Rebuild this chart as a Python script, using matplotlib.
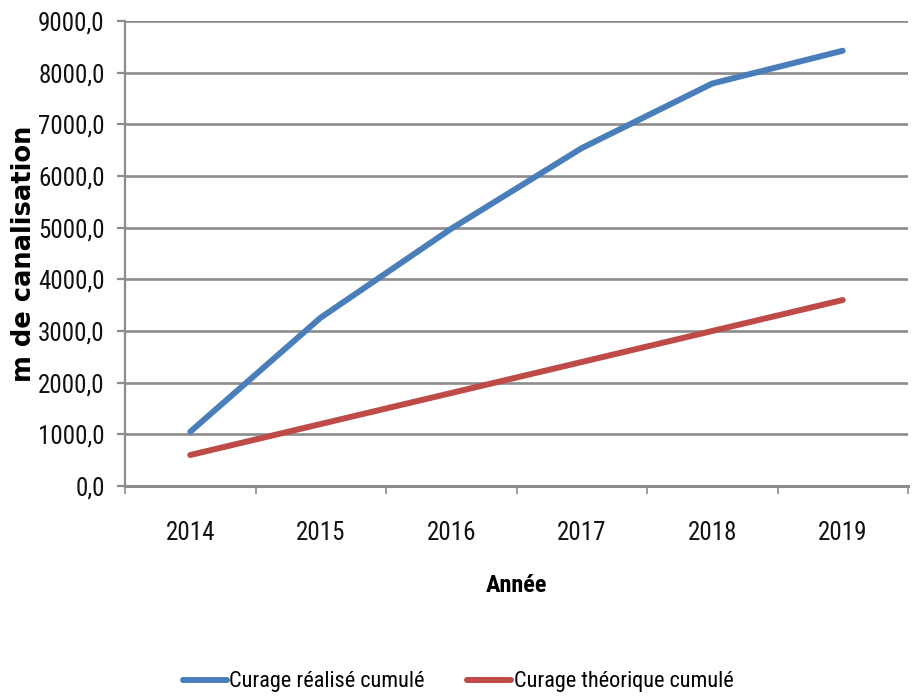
import matplotlib
matplotlib.use("Agg")
import matplotlib.pyplot as plt
from matplotlib.ticker import FuncFormatter, FixedLocator

# Data
annees = ["2014", "2015", "2016", "2017", "2018", "2019"]
realise_cumule = [1050, 3260, 4980, 6540, 7790, 8425]
theorique_cumule = [600, 1200, 1800, 2400, 3000, 3600]
y_ticks = [0, 1000, 2000, 3000, 4000, 5000, 6000, 7000, 8000, 9000]

serie_labels = ["Curage réalisé cumulé", "Curage théorique cumulé"]
couleurs = ["#4A7EBB", "#BE4B48"]
grille = "#8C8C8C"

plt.rcParams["font.family"] = ["Roboto Condensed", "Noto Sans", "DejaVu Sans"]
plt.rcParams["font.stretch"] = "condensed"

fig = plt.figure(figsize=(9.16, 6.98), dpi=100)
ax = fig.add_axes([125 / 916, 1 - 486 / 698, (908 - 125) / 916, (486 - 21) / 698])

x = list(range(len(annees)))
ax.plot(x, realise_cumule, color=couleurs[0], lw=4.3, solid_capstyle="round",
        solid_joinstyle="round", label=serie_labels[0], zorder=3)
ax.plot(x, theorique_cumule, color=couleurs[1], lw=4.3, solid_capstyle="round",
        solid_joinstyle="round", label=serie_labels[1], zorder=3)

ax.set_xlim(-0.5, len(annees) - 0.5)
ax.set_ylim(0, 9000)

# y axis
ax.yaxis.set_major_locator(FixedLocator(y_ticks))
ax.yaxis.set_major_formatter(FuncFormatter(lambda v, p: f"{v:.1f}".replace(".", ",")))
ax.grid(axis="y", color=grille, lw=1.9, zorder=0)
ax.tick_params(axis="y", direction="out", length=5.5, width=1.6, color=grille,
               pad=9, labelsize=18, labelcolor="#111111")

# x axis: ticks between categories, labels at category centers
ax.xaxis.set_major_locator(FixedLocator([i - 0.5 for i in range(len(annees) + 1)]))
ax.xaxis.set_major_formatter(FuncFormatter(lambda v, p: ""))
ax.xaxis.set_minor_locator(FixedLocator(x))
ax.set_xticklabels(annees, minor=True)
ax.tick_params(axis="x", which="major", direction="out", length=6, width=1.2, color=grille)
ax.tick_params(axis="x", which="minor", length=0, pad=25, labelsize=18, labelcolor="#111111")

for side in ("top", "right"):
    ax.spines[side].set_visible(False)
ax.spines["left"].set_color(grille)
ax.spines["left"].set_linewidth(1.6)
ax.spines["bottom"].set_color(grille)
ax.spines["bottom"].set_linewidth(2.2)

ax.set_xlabel("Année", fontsize=17.5, fontweight="bold", labelpad=21)
ax.set_ylabel("m de canalisation", fontsize=18.5, fontweight="bold",
              family=["DejaVu Sans"], stretch="normal")
ax.yaxis.set_label_coords(-0.112, 0.5)

fig.legend(loc="center", bbox_to_anchor=(0.500, 0.023), ncol=2, frameon=False,
           fontsize=16, handlelength=2.0, handletextpad=0.1, columnspacing=1.9)

fig.savefig("out.png", dpi=100, facecolor="white")
